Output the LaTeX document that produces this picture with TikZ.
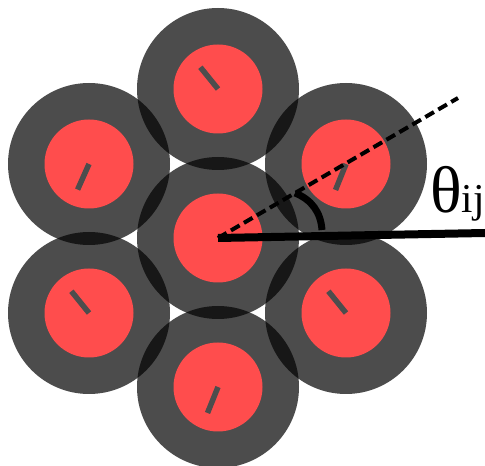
\documentclass[tikz,border=0pt]{standalone}
\usepackage{fontspec}
\setmainfont{Liberation Serif}
\definecolor{discred}{HTML}{FF4D4D}
\definecolor{bargray}{HTML}{4D4D4D}

\begin{document}
\begin{tikzpicture}[x=1pt,y=1pt,
	ring/.style={fill=black, fill opacity=0.7},
	disc/.style={fill=discred},
	bar/.style={draw=bargray, line width=5.5pt},
	refline/.style={line width=8pt},
	dirline/.style={line width=4pt, dash pattern=on 10pt off 5pt},
	anglearc/.style={line width=7pt}]
	\useasboundingbox (0,0) rectangle (485,466);
	% centres of the seven particles
	\coordinate (c0) at (218,228);
	\coordinate (c1) at (346,302);
	\coordinate (c2) at (218,377);
	\coordinate (c3) at (89,302);
	\coordinate (c4) at (89,153);
	\coordinate (c5) at (218,79);
	\coordinate (c6) at (346,153);
	% interaction range as translucent rings
	\fill[ring] (c0) circle (81pt);
	\fill[ring] (c1) circle (81pt);
	\fill[ring] (c2) circle (81pt);
	\fill[ring] (c3) circle (81pt);
	\fill[ring] (c4) circle (81pt);
	\fill[ring] (c5) circle (81pt);
	\fill[ring] (c6) circle (81pt);
	% particle cores
	\fill[disc] (c0) circle (44.5pt);
	\fill[disc] (c1) circle (44.5pt);
	\fill[disc] (c2) circle (44.5pt);
	\fill[disc] (c3) circle (44.5pt);
	\fill[disc] (c4) circle (44.5pt);
	\fill[disc] (c5) circle (44.5pt);
	\fill[disc] (c6) circle (44.5pt);
	% orientations
	\draw[bar] (c0) -- ++(3:27pt);
	\draw[bar] (c1) -- ++(248:28pt);
	\draw[bar] (c2) -- ++(129:28pt);
	\draw[bar] (c3) -- ++(246:28pt);
	\draw[bar] (c4) -- ++(129:28pt);
	\draw[bar] (c5) -- ++(248:28pt);
	\draw[bar] (c6) -- ++(129:28pt);
	% bond direction and reference axis
	\coordinate (dirend) at (458,368);
	\coordinate (axisend) at (485,233);
	\draw[dirline] (c0) -- (dirend);
	\draw[refline] (c0) -- (axisend);
	\coordinate (arcA) at (295,273);
	\coordinate (arcB) at (322,236);
	\draw[anglearc] (arcA) to[bend left=32] (arcB);
	\node[anchor=base west, inner sep=0pt] (theta) at (430,253)
		{\fontsize{66}{66}\selectfont θ\fontsize{41}{41}\selectfont ij};
\end{tikzpicture}
\end{document}
